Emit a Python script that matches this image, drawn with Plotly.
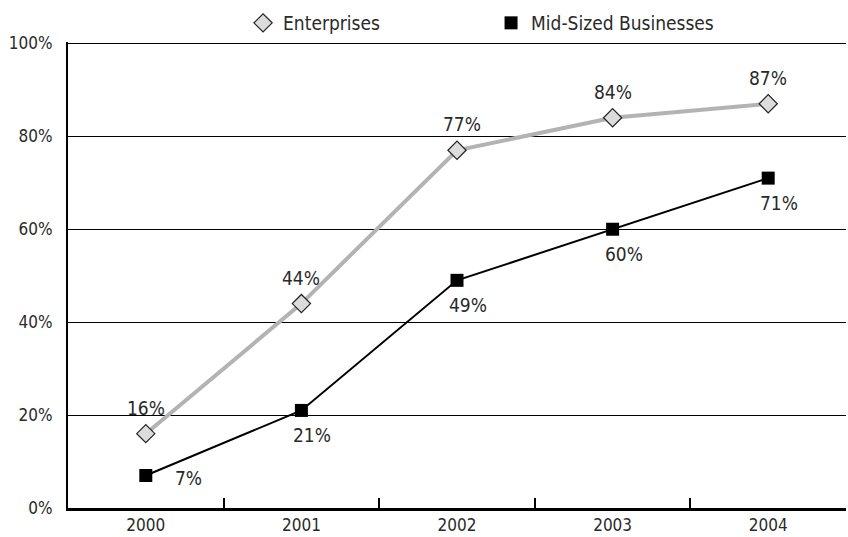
import plotly.graph_objects as go

years = ["2000", "2001", "2002", "2003", "2004"]
enterprises = [16, 44, 77, 84, 87]
midsized = [7, 21, 49, 60, 71]
y_ticks = [0, 20, 40, 60, 80, 100]
y_tick_labels = ["0%", "20%", "40%", "60%", "80%", "100%"]

FONT = "Liberation Sans Narrow, DejaVu Sans Condensed, Arial Narrow, sans-serif"
TXT = "#2a2a2a"
FS = 18

ent_marker = dict(symbol="diamond", size=14, color="#dcdcdc",
                  line=dict(color="#222222", width=1.2))
mid_marker = dict(symbol="square", size=13, color="#000000")

fig = go.Figure()
fig.add_trace(go.Scatter(
    x=years, y=enterprises, name="Enterprises", mode="lines+markers",
    line=dict(color="#b3b3b3", width=4), marker=ent_marker, showlegend=False,
))
fig.add_trace(go.Scatter(
    x=years, y=midsized, name="Mid-Sized Businesses", mode="lines+markers",
    line=dict(color="#000000", width=2), marker=mid_marker, showlegend=False,
))
# legend entries (marker only)
fig.add_trace(go.Scatter(x=[None], y=[None], name="Enterprises", mode="markers",
                         marker=ent_marker, showlegend=True))
fig.add_trace(go.Scatter(x=[None], y=[None], name="Mid-Sized Businesses", mode="markers",
                         marker=mid_marker, showlegend=True))

for i, v in enumerate(enterprises):
    fig.add_annotation(x=i, y=v, text=f"{v}%", showarrow=False,
                       yshift=26, xshift=5 if i == 2 else 0,
                       font=dict(family=FONT, size=FS + 1, color=TXT))
for i, v in enumerate(midsized):
    if i == 0:
        fig.add_annotation(x=i, y=v, text=f"{v}%", showarrow=False,
                           xshift=43, yshift=-3,
                           font=dict(family=FONT, size=FS + 1, color=TXT))
    else:
        fig.add_annotation(x=i, y=v, text=f"{v}%", showarrow=False,
                           xshift=11, yshift=-25,
                           font=dict(family=FONT, size=FS + 1, color=TXT))

fig.update_layout(
    width=848, height=537, autosize=False,
    margin=dict(l=68, r=2, t=42, b=29),
    plot_bgcolor="white", paper_bgcolor="white",
    font=dict(family=FONT, size=FS, color=TXT),
    showlegend=True,
    legend=dict(orientation="h", x=0.225, xanchor="left", y=1.0, yanchor="bottom",
                font=dict(family=FONT, size=FS + 1, color=TXT),
                itemwidth=30, traceorder="normal",
                entrywidthmode="pixels", entrywidth=203),
    xaxis=dict(
        type="category", range=[-0.5, 4.5],
        showline=True, linecolor="#000000", linewidth=2.5,
        ticks="inside", ticklen=10, tickwidth=2, tickcolor="#000000",
        tickson="boundaries", showgrid=False,
        tickfont=dict(family=FONT, size=FS - 1, color=TXT),
    ),
    yaxis=dict(
        range=[0, 100.3], tickvals=y_ticks, ticktext=y_tick_labels,
        showline=True, linecolor="#000000", linewidth=2,
        showgrid=True, gridcolor="#000000", gridwidth=1,
        ticks="", zeroline=False, ticklabelstandoff=10,
        tickfont=dict(family=FONT, size=FS - 1, color=TXT),
    ),
)

fig.write_html("out.html", config={"displayModeBar": False},
               post_script="document.body.style.margin='0';document.body.style.overflow='hidden';")
